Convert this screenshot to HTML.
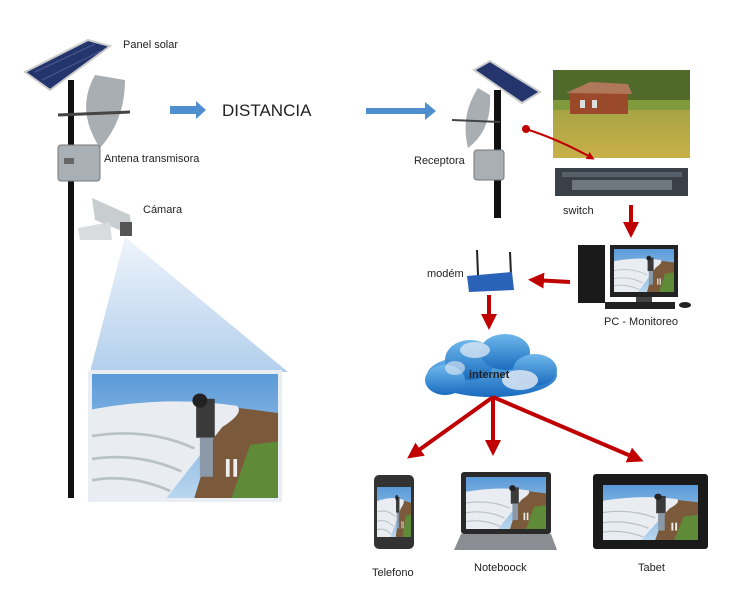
<!DOCTYPE html>
<html><head><meta charset="utf-8"><style>
html,body{margin:0;padding:0;background:#fff;width:750px;height:594px;overflow:hidden}
svg{display:block}
text{font-family:"Liberation Sans",sans-serif;fill:#222}
</style></head><body>
<svg width="750" height="594" viewBox="0 0 750 594" xmlns="http://www.w3.org/2000/svg">
<defs>
<linearGradient id="sky" x1="0" y1="0" x2="0" y2="1"><stop offset="0" stop-color="#5a9ad8"/><stop offset="1" stop-color="#b9d6ee"/></linearGradient>
<linearGradient id="cone" x1="0" y1="0" x2="0" y2="1"><stop offset="0" stop-color="#eef4fb"/><stop offset="1" stop-color="#b2cfec"/></linearGradient>
<linearGradient id="field" x1="0" y1="0" x2="0" y2="1"><stop offset="0" stop-color="#8a9a40"/><stop offset="1" stop-color="#c9b048"/></linearGradient>
<linearGradient id="cloud" x1="0" y1="0" x2="0" y2="1"><stop offset="0" stop-color="#6fb8ec"/><stop offset="1" stop-color="#1a6cbf"/></linearGradient>
<marker id="ra" markerWidth="4" markerHeight="4" refX="2.5" refY="2" orient="auto" markerUnits="strokeWidth"><path d="M0,0 L4,2 L0,4 z" fill="#c00000"/></marker>
<symbol id="photo" viewBox="0 0 100 70" preserveAspectRatio="none">
<rect width="100" height="70" fill="url(#sky)"/>
<path d="M70,18 L100,22 L100,70 L55,70 Z" fill="#7a5a3a"/>
<path d="M85,40 L100,38 L100,70 L75,70 Z" fill="#5f8a38"/>
<path d="M0,20 Q40,12 78,18 Q82,22 70,30 L40,70 L0,70 Z" fill="#e9edf1"/>
<path d="M0,35 Q30,30 55,42 M0,48 Q25,44 48,55 M0,60 Q20,56 42,66" stroke="#b8c0c8" stroke-width="1.5" fill="none"/>
<rect x="56" y="14" width="10" height="22" fill="#3a3a3a"/>
<rect x="58" y="36" width="7" height="22" fill="#8a98a8"/>
<circle cx="58" cy="15" r="4" fill="#222"/>
<rect x="72" y="48" width="2" height="10" fill="#eee"/><rect x="76" y="48" width="2" height="10" fill="#eee"/>
</symbol>
</defs>

<rect x="68" y="80" width="6" height="418" fill="#111"/>
<polygon points="25,72 88,40 110,46 50,90" fill="#24356e" stroke="#ccc" stroke-width="2"/>
<path d="M35,72 L95,44 M42,80 L103,50" stroke="#4a5a90" stroke-width="1"/>
<path d="M95,75 Q75,110 100,148 Q125,120 125,80 Z" fill="#9aa0a6" opacity="0.85"/>
<line x1="58" y1="115" x2="130" y2="112" stroke="#444" stroke-width="3"/>
<rect x="58" y="145" width="42" height="36" rx="3" fill="#a8b0b6" stroke="#777"/>
<rect x="64" y="158" width="10" height="6" fill="#666"/>
<polygon points="92,198 130,215 132,235 95,220" fill="#c8cdd0"/>
<polygon points="78,228 110,222 112,240 80,240" fill="#d8dcde"/>
<rect x="120" y="222" width="12" height="14" fill="#555"/>
<polygon points="125,237 90,372 288,372" fill="url(#cone)"/>
<rect x="88" y="370" width="194" height="132" fill="#e8eef4"/>
<use href="#photo" x="92" y="374" width="186" height="124"/>
<text x="123" y="48" font-size="11">Panel solar</text>
<text x="104" y="162" font-size="11">Antena transmisora</text>
<text x="143" y="213" font-size="11">Cámara</text>

<polygon points="170,106 196,106 196,101 206,110 196,119 196,114 170,114" fill="#4f8fcf"/>
<text x="222" y="116" font-size="17">DISTANCIA</text>
<polygon points="366,108 425,108 425,102 436,111 425,120 425,114 366,114" fill="#4f8fcf"/>

<rect x="494" y="90" width="7" height="128" fill="#111"/>
<polygon points="474,70 490,61 540,92 522,103" fill="#24356e" stroke="#ccc" stroke-width="2"/>
<path d="M478,88 Q460,115 468,148 Q492,130 490,95 Z" fill="#9aa0a6" opacity="0.85"/>
<line x1="452" y1="120" x2="500" y2="122" stroke="#444" stroke-width="2"/>
<rect x="474" y="150" width="30" height="30" rx="3" fill="#a8b0b6" stroke="#777"/>
<text x="414" y="164" font-size="11">Receptora</text>

<rect x="553" y="70" width="137" height="88" fill="url(#field)"/>
<rect x="553" y="70" width="137" height="35" fill="#4f6a2a"/>
<rect x="553" y="100" width="137" height="10" fill="#7f9a3a"/>
<rect x="570" y="92" width="58" height="22" fill="#9a4a2a"/>
<polygon points="566,93 590,82 628,84 632,94" fill="#b0785a"/>
<rect x="580" y="100" width="5" height="8" fill="#ddd"/><rect x="592" y="100" width="5" height="8" fill="#ddd"/>
<circle cx="526" cy="129" r="4" fill="#c00000"/>
<path d="M526,129 Q560,140 592,158" stroke="#c00000" stroke-width="2" fill="none" marker-end="url(#ra)"/>
<rect x="555" y="168" width="133" height="28" fill="#3a4048"/>
<rect x="562" y="172" width="120" height="5" fill="#56606a"/>
<rect x="572" y="180" width="100" height="10" fill="#70787f"/>
<text x="563" y="214" font-size="11">switch</text>
<line x1="631" y1="205" x2="631" y2="232" stroke="#c00000" stroke-width="4" marker-end="url(#ra)"/>

<rect x="578" y="245" width="27" height="58" fill="#1a1a1a"/>
<rect x="610" y="245" width="68" height="52" fill="#222"/>
<use href="#photo" x="614" y="249" width="60" height="43"/>
<rect x="636" y="297" width="16" height="5" fill="#444"/>
<rect x="605" y="302" width="70" height="7" fill="#222"/>
<ellipse cx="685" cy="305" rx="6" ry="3" fill="#222"/>
<text x="604" y="325" font-size="11">PC - Monitoreo</text>
<line x1="570" y1="282" x2="534" y2="280" stroke="#c00000" stroke-width="4" marker-end="url(#ra)"/>

<line x1="477" y1="250" x2="478" y2="275" stroke="#222" stroke-width="2"/>
<line x1="510" y1="252" x2="511" y2="275" stroke="#222" stroke-width="2"/>
<polygon points="467,276 512,272 514,290 469,292" fill="#2a62b8"/>
<text x="427" y="277" font-size="11">modém</text>
<line x1="489" y1="295" x2="489" y2="324" stroke="#c00000" stroke-width="4" marker-end="url(#ra)"/>

<g fill="url(#cloud)">
<ellipse cx="492" cy="375" rx="65" ry="22"/>
<ellipse cx="470" cy="360" rx="25" ry="20"/>
<ellipse cx="505" cy="352" rx="25" ry="18"/>
<ellipse cx="535" cy="370" rx="22" ry="16"/>
<ellipse cx="445" cy="380" rx="20" ry="15"/>
</g>
<ellipse cx="520" cy="380" rx="18" ry="10" fill="#e8eef5" opacity="0.8"/>
<ellipse cx="475" cy="350" rx="15" ry="8" fill="#e8eef5" opacity="0.7"/>
<ellipse cx="455" cy="368" rx="10" ry="7" fill="#e8eef5" opacity="0.6"/>
<text x="469" y="378" font-size="11" font-weight="bold">internet</text>

<g stroke="#c00000" stroke-width="4" fill="none">
<line x1="493" y1="397" x2="412" y2="455" marker-end="url(#ra)"/>
<line x1="493" y1="397" x2="493" y2="450" marker-end="url(#ra)"/>
<line x1="493" y1="397" x2="638" y2="459" marker-end="url(#ra)"/>
</g>

<rect x="374" y="475" width="40" height="74" rx="5" fill="#333"/>
<use href="#photo" x="377" y="487" width="34" height="50"/>
<text x="372" y="576" font-size="11">Telefono</text>

<rect x="461" y="472" width="90" height="62" rx="3" fill="#2a2a2a"/>
<use href="#photo" x="466" y="477" width="80" height="52"/>
<polygon points="461,534 551,534 557,550 454,550" fill="#8a8e92"/>
<text x="474" y="571" font-size="11">Noteboock</text>

<rect x="593" y="474" width="115" height="75" rx="3" fill="#1a1a1a"/>
<use href="#photo" x="603" y="485" width="95" height="55"/>
<text x="638" y="571" font-size="11">Tabet</text>
</svg>
</body></html>
